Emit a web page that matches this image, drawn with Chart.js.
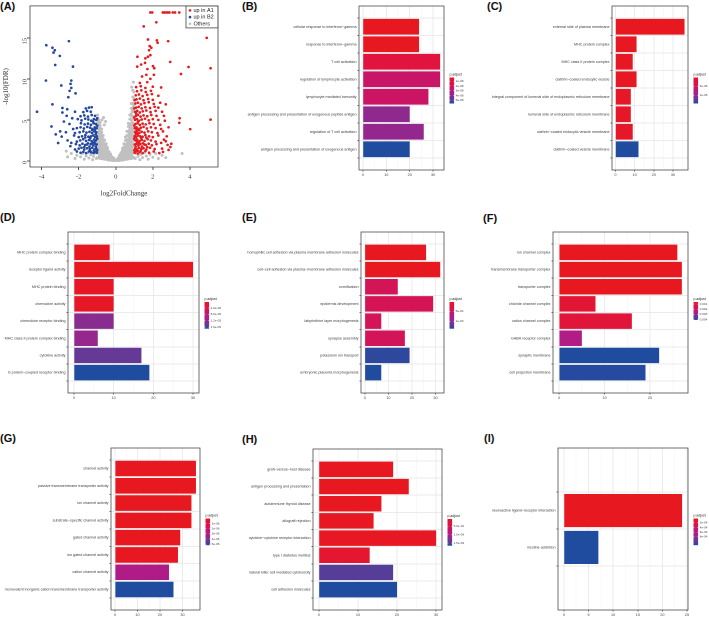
<!DOCTYPE html>
<html>
<head>
<meta charset="utf-8">
<script src="https://cdn.jsdelivr.net/npm/chart.js@4.4.1/dist/chart.umd.min.js"></script>
<style>
  html, body { margin: 0; padding: 0; background: #fff; }
  #fig { position: relative; width: 709px; height: 617px; overflow: hidden; }
  #fig canvas { position: absolute; }
  .tag { position: absolute; font: bold 11px "Liberation Sans", Arial, sans-serif; color: #111; line-height: 1; }
</style>
</head>
<body>
<div id="fig">
  <div class="tag" style="left:0px;top:1px">(A)</div>
  <div class="tag" style="left:242px;top:1px">(B)</div>
  <div class="tag" style="left:487px;top:1px">(C)</div>
  <div class="tag" style="left:0px;top:212px">(D)</div>
  <div class="tag" style="left:242px;top:212px">(E)</div>
  <div class="tag" style="left:483px;top:213px">(F)</div>
  <div class="tag" style="left:0px;top:433px">(G)</div>
  <div class="tag" style="left:242px;top:434px">(H)</div>
  <div class="tag" style="left:484px;top:433px">(I)</div>
</div>
<script>
/* ------------------------------------------------------------
   (A) volcano plot points: [log2FoldChange, -log10(FDR)]
------------------------------------------------------------ */
const upA1 = [
  [1.87,18.1],[1.97,18.1],[2.54,18.1],[2.63,18.1],[2.72,18.1],[2.81,18.1],[2.9,18.1],[3.08,18.1],[3.2,18.1],[3.43,18.1],
  [2.19,16.9],[1.51,16.4],[4.91,15.0],[1.74,14.8],[2.22,14.7],[2.26,14.4],[2.83,14.6],
  [1.83,14.0],[1.92,13.8],[1.8,13.5],[1.87,12.9],[1.74,12.7],[1.17,12.7],[1.6,12.5],[1.58,11.95],[2.94,12.07],
  [1.16,11.5],[1.37,11.75],[1.71,11.2],[2.01,11.56],[2.08,11.3],[3.93,11.45],[5.12,11.3],[3.52,10.6],
  [1.42,10.3],[1.65,10.5],[1.87,10.0],[2.06,10.5],[3.45,5.2],[3.43,4.65],[4.02,3.87],[5.12,5.04],
  [1.02,1.0],[1.1,1.15],[1.2,0.9],[1.3,1.1],[1.45,0.95],[1.6,1.2],[1.8,1.0],[2.05,1.15],[2.35,0.95],
  [1.05,1.5],[1.15,1.4],[1.25,1.6],[1.38,1.45],[1.5,1.55],[1.65,1.4],[1.85,1.6],[2.1,1.45],[2.5,1.5],[2.85,1.35],
  [1.03,2.0],[1.12,2.1],[1.22,1.9],[1.33,2.05],[1.47,2.15],[1.62,1.95],[1.78,2.1],[1.95,1.9],[2.2,2.05],[2.45,2.2],[2.8,1.95],[3.0,2.1],
  [1.06,2.5],[1.16,2.6],[1.28,2.4],[1.4,2.55],[1.55,2.45],[1.72,2.65],[1.9,2.5],[2.15,2.35],[2.6,2.6],
  [1.02,3.0],[1.1,2.9],[1.2,3.1],[1.32,3.0],[1.45,2.95],[1.6,3.15],[1.8,3.0],[2.0,2.9],[2.3,3.1],[2.75,3.0],
  [1.05,3.5],[1.15,3.6],[1.27,3.4],[1.4,3.55],[1.55,3.45],[1.75,3.6],[1.95,3.5],[2.25,3.4],[2.55,3.6],
  [1.03,4.0],[1.12,4.1],[1.22,3.9],[1.35,4.05],[1.5,4.15],[1.68,3.95],[1.9,4.1],[2.15,4.0],[2.45,3.9],[2.85,4.1],
  [1.06,4.5],[1.18,4.6],[1.3,4.4],[1.45,4.55],[1.62,4.45],[1.82,4.6],[2.05,4.5],[2.4,4.4],
  [1.04,5.0],[1.14,5.1],[1.26,4.9],[1.4,5.05],[1.58,5.15],[1.78,4.95],[2.0,5.1],[2.3,5.0],[2.65,4.9],
  [1.08,5.5],[1.2,5.6],[1.34,5.4],[1.5,5.55],[1.7,5.45],[1.92,5.6],[2.2,5.5],
  [1.05,6.0],[1.16,6.1],[1.3,5.9],[1.46,6.05],[1.65,6.15],[1.88,5.95],[2.15,6.1],[2.5,6.0],
  [1.1,6.5],[1.24,6.6],[1.4,6.4],[1.6,6.55],[1.85,6.45],[2.1,6.6],
  [1.06,7.0],[1.2,7.1],[1.36,6.9],[1.55,7.05],[1.78,7.15],[2.05,6.95],[2.4,7.1],[2.7,6.9],
  [1.12,7.5],[1.3,7.6],[1.5,7.4],[1.75,7.55],[2.0,7.45],
  [1.08,8.0],[1.25,8.1],[1.45,7.9],[1.7,8.05],[1.95,8.15],[2.3,7.95],
  [1.15,8.5],[1.38,8.6],[1.62,8.4],[1.9,8.55],[1.1,9.0],[1.35,9.1],[1.6,8.9],[2.0,9.05],[2.45,8.95],[1.3,9.5],[1.7,9.6],
  [1.0,1.3],[1.08,1.75],[1.15,2.3],[1.0,2.7],[1.08,3.25],[1.18,1.25],[1.25,2.2],[1.35,1.25],[1.12,3.8],[1.0,4.3],
  [1.2,4.8],[1.0,5.3],[1.1,5.8],[1.0,6.4],[1.02,7.4],[1.15,3.3],[1.28,3.75],[1.38,2.75],[1.42,1.75],[1.55,2.0],
  [1.7,1.7],[1.65,2.85],[2.55,1.1],[2.7,2.4],[2.95,1.7],[2.6,5.5],[2.3,6.5]
];
const upB2 = [
  [-2.53,14.6],[-3.75,14.1],[-3.42,13.8],[-3.29,13.5],[-3.36,13.2],[-3.02,12.8],[-3.27,11.7],[-2.31,11.5],[-3.77,9.8],
  [-2.4,9.8],[-2.44,9.4],[-2.4,8.9],[-2.49,8.55],[-2.17,8.24],[-2.56,7.77],[-2.94,9.2],[-3.42,6.9],[-4.25,6.0],
  [-2.88,6.45],[-2.88,5.9],[-2.62,6.3],[-2.65,5.5],[-3.47,4.2],[-3.24,3.24],[-3.11,2.19],[-2.92,2.97],[-2.69,3.5],
  [-2.5,4.5],[-2.35,5.2],[-2.8,4.8],[-2.2,6.0],[-2.6,2.5],[-2.45,1.8],[-3.0,3.6],[-2.3,3.9],
  [-1.02,1.0],[-1.1,1.1],[-1.2,0.95],[-1.32,1.05],[-1.45,1.15],[-1.6,0.95],[-1.75,1.1],[-1.9,1.0],[-2.1,1.15],
  [-1.05,1.5],[-1.15,1.4],[-1.27,1.6],[-1.4,1.45],[-1.55,1.55],[-1.7,1.4],[-1.85,1.6],[-2.0,1.5],[-2.2,1.4],
  [-1.03,2.0],[-1.12,2.1],[-1.22,1.9],[-1.35,2.05],[-1.5,2.15],[-1.65,1.95],[-1.8,2.1],[-1.95,1.9],[-2.15,2.05],[-2.4,2.2],
  [-1.06,2.5],[-1.17,2.6],[-1.3,2.4],[-1.44,2.55],[-1.6,2.45],[-1.76,2.65],[-1.92,2.5],[-2.1,2.35],
  [-1.02,3.0],[-1.11,2.9],[-1.21,3.1],[-1.34,3.0],[-1.48,2.95],[-1.64,3.15],[-1.82,3.0],[-2.0,2.9],[-2.25,3.1],
  [-1.05,3.5],[-1.16,3.6],[-1.28,3.4],[-1.42,3.55],[-1.58,3.45],[-1.75,3.6],[-1.95,3.5],[-2.2,3.4],
  [-1.03,4.0],[-1.13,4.1],[-1.25,3.9],[-1.38,4.05],[-1.54,4.15],[-1.72,3.95],[-1.9,4.1],[-2.1,4.0],
  [-1.08,4.5],[-1.2,4.6],[-1.34,4.4],[-1.5,4.55],[-1.68,4.45],[-1.88,4.6],
  [-1.05,5.0],[-1.18,5.1],[-1.32,4.9],[-1.48,5.05],[-1.65,5.15],[-1.85,4.95],[-2.05,5.1],
  [-1.12,5.5],[-1.3,5.6],[-1.5,5.4],[-1.7,5.55],[-1.9,5.45],[-1.35,6.0],[-1.55,6.1],[-1.75,5.95],
  [-1.45,6.5],[-1.62,6.4],[-1.3,6.55],
  [-1.0,1.3],[-1.08,1.75],[-1.15,2.3],[-1.0,2.7],[-1.08,3.25],[-1.18,1.25],[-1.25,2.2],[-1.38,1.25],[-1.12,3.8],
  [-1.0,4.3],[-1.22,4.8],[-1.0,5.2],[-1.42,1.75],[-1.55,2.0],[-1.7,1.7],[-1.65,2.85],[-1.28,3.75],[-1.38,2.75]
];
const others = [
  [0.05,0.05],[0.05,0.15],[0.12,0.05],[0.12,0.2],[0.12,0.35],[0.2,0.05],[0.2,0.25],[0.2,0.5],[0.2,0.7],
  [0.28,0.1],[0.28,0.4],[0.28,0.7],[0.28,1.0],[0.36,0.1],[0.36,0.45],[0.36,0.8],[0.36,1.2],[0.36,1.5],
  [0.44,0.15],[0.44,0.5],[0.44,0.9],[0.44,1.3],[0.44,1.7],[0.44,2.1],
  [0.52,0.2],[0.52,0.6],[0.52,1.0],[0.52,1.5],[0.52,2.0],[0.52,2.5],[0.52,2.9],
  [0.6,0.2],[0.6,0.6],[0.6,1.1],[0.6,1.6],[0.6,2.1],[0.6,2.6],[0.6,3.1],[0.6,3.6],
  [0.68,0.25],[0.68,0.7],[0.68,1.2],[0.68,1.8],[0.68,2.4],[0.68,3.0],[0.68,3.6],[0.68,4.2],[0.68,4.6],
  [0.76,0.3],[0.76,0.8],[0.76,1.4],[0.76,2.0],[0.76,2.6],[0.76,3.2],[0.76,3.9],[0.76,4.5],[0.76,5.1],[0.76,5.6],
  [0.84,0.3],[0.84,0.9],[0.84,1.5],[0.84,2.2],[0.84,2.9],[0.84,3.6],[0.84,4.3],[0.84,5.0],[0.84,5.7],[0.84,6.4],[0.84,7.0],
  [0.92,0.35],[0.92,1.0],[0.92,1.7],[0.92,2.4],[0.92,3.1],[0.92,3.8],[0.92,4.6],[0.92,5.4],[0.92,6.2],[0.92,7.0],[0.92,7.8],[0.92,8.6],
  [0.98,0.4],[0.98,1.2],[0.98,2.0],[0.98,2.8],[0.98,3.6],[0.98,4.4],[0.98,5.2],[0.98,6.0],[0.98,6.8],[0.98,7.6],[0.98,8.4],[0.95,9.6],[0.86,9.0],
  [0.32,0.25],[0.4,0.3],[0.48,0.4],[0.56,0.45],[0.64,0.5],[0.72,0.55],[0.8,0.6],[0.88,0.65],[0.4,0.65],[0.48,0.75],
  [0.56,0.85],[0.64,0.95],[0.72,1.0],[0.8,1.1],[0.88,1.25],[0.48,1.15],[0.56,1.3],[0.64,1.4],[0.72,1.5],[0.8,1.7],
  [0.88,1.9],[0.56,1.75],[0.64,1.9],[0.72,2.1],[0.8,2.3],[0.88,2.6],[0.64,2.35],[0.72,2.7],[0.8,2.95],[0.88,3.3],
  [0.72,3.35],[0.8,3.6],[0.88,4.0],[0.8,4.2],[0.88,4.7],[0.88,5.4],[0.95,6.6],[0.88,6.0],
  [-0.05,0.05],[-0.05,0.15],[-0.12,0.05],[-0.12,0.2],[-0.12,0.35],[-0.2,0.05],[-0.2,0.25],[-0.2,0.5],
  [-0.28,0.1],[-0.28,0.35],[-0.28,0.6],[-0.28,0.85],[-0.36,0.1],[-0.36,0.4],[-0.36,0.75],[-0.36,1.1],
  [-0.44,0.15],[-0.44,0.5],[-0.44,0.9],[-0.44,1.3],[-0.44,1.6],
  [-0.52,0.2],[-0.52,0.55],[-0.52,1.0],[-0.52,1.4],[-0.52,1.8],[-0.52,2.1],
  [-0.6,0.2],[-0.6,0.6],[-0.6,1.1],[-0.6,1.6],[-0.6,2.1],[-0.6,2.5],
  [-0.68,0.25],[-0.68,0.7],[-0.68,1.2],[-0.68,1.7],[-0.68,2.2],[-0.68,2.7],[-0.68,3.1],
  [-0.76,0.3],[-0.76,0.8],[-0.76,1.3],[-0.76,1.9],[-0.76,2.5],[-0.76,3.0],[-0.76,3.5],[-0.76,3.9],
  [-0.84,0.3],[-0.84,0.85],[-0.84,1.4],[-0.84,2.0],[-0.84,2.6],[-0.84,3.2],[-0.84,3.8],[-0.84,4.3],[-0.84,4.7],
  [-0.92,0.35],[-0.92,0.9],[-0.92,1.5],[-0.92,2.1],[-0.92,2.7],[-0.92,3.3],[-0.92,3.9],[-0.92,4.5],[-0.92,5.0],
  [-0.98,0.4],[-0.98,1.0],[-0.98,1.6],[-0.98,2.2],[-0.98,2.8],[-0.98,3.4],[-0.98,4.0],[-0.98,4.6],[-0.98,5.2],[-0.98,5.6],
  [-0.32,0.25],[-0.4,0.3],[-0.48,0.35],[-0.56,0.4],[-0.64,0.45],[-0.72,0.5],[-0.8,0.55],[-0.88,0.6],[-0.48,0.75],[-0.56,0.8],
  [-0.64,0.9],[-0.72,1.0],[-0.8,1.1],[-0.88,1.2],[-0.56,1.25],[-0.64,1.4],[-0.72,1.5],[-0.8,1.65],[-0.88,1.8],[-0.64,1.85],
  [-0.72,1.95],[-0.8,2.25],[-0.88,2.4],[-0.72,2.45],[-0.8,2.75],[-0.88,3.0],[-0.8,3.25],[-0.88,3.6],[-0.88,4.1],[-0.95,4.8],
  [-0.74,5.0],[-0.66,5.3],[-0.55,4.8],[-0.62,4.4],
  [-2.6,0.5],[-2.4,0.9],[-2.2,0.3],[-2.1,0.7],[-1.9,0.5],[-1.8,0.9],[-1.7,0.2],[-1.6,0.6],[-1.5,1.0],[-1.45,0.35],
  [-1.35,0.75],[-1.25,0.15],[-1.2,0.55],[-1.1,0.95],[-1.05,0.3],[-2.67,1.2],
  [1.05,0.3],[1.1,0.9],[1.2,0.55],[1.3,0.15],[1.35,0.8],[1.45,0.4],[1.55,1.0],[1.65,0.6],[1.75,0.2],[1.85,0.8],
  [2.0,0.45],[2.15,0.9],[2.3,0.3],[2.5,0.7],[2.7,0.4],[3.58,0.9]
];

/* ------------------------------------------------------------
   (B)-(I) enrichment bar charts: terms, gene counts, p.adjust
------------------------------------------------------------ */
const bTerms = ["cellular response to interferon\u2212gamma", "response to interferon\u2212gamma", "T cell activation",
  "regulation of lymphocyte activation", "lymphocyte mediated immunity",
  "antigen processing and presentation of exogenous peptide antigen", "regulation of T cell activation",
  "antigen processing and presentation of exogenous antigen"];
const bCounts = [24, 24, 33, 33, 28, 20, 26, 20];
const bPadj = [2.3e-9, 2.3e-9, 1.05e-8, 2.4e-8, 2.3e-8, 4.1e-8, 4.0e-8, 5.7e-8];
const bLegend = ["1e-08", "2e-08", "3e-08", "4e-08", "5e-08"];

const cTerms = ["external side of plasma membrane", "MHC protein complex", "MHC class II protein complex",
  "clathrin\u2212coated endocytic vesicle", "integral component of lumenal side of endoplasmic reticulum membrane",
  "lumenal side of endoplasmic reticulum membrane", "clathrin\u2212coated endocytic vesicle membrane",
  "clathrin\u2212coated vesicle membrane"];
const cCounts = [36, 11, 9, 11, 8, 8, 9, 12];
const cPadj = [1.9e-7, 3e-7, 4e-7, 5e-7, 6e-7, 6e-7, 9e-7, 1.46e-5];
const cLegend = ["5e-06", "1e-05"];

const dTerms = ["MHC protein complex binding", "receptor ligand activity", "MHC protein binding", "chemokine activity",
  "chemokine receptor binding", "MHC class II protein complex binding", "cytokine activity",
  "G protein\u2212coupled receptor binding"];
const dCounts = [9, 30, 10, 10, 10, 6, 17, 19];
const dPadj = [2e-7, 3e-7, 6e-7, 8e-7, 1.25e-5, 1.17e-5, 1.45e-5, 1.705e-5];
const dLegend = ["4.0e-06", "8.0e-06", "1.2e-05", "1.6e-05"];

const eTerms = ["homophilic cell adhesion via plasma membrane adhesion molecules",
  "cell\u2212cell adhesion via plasma\u2212membrane adhesion molecules", "cornification", "epidermis development",
  "labyrinthine layer morphogenesis", "synapse assembly", "potassium ion transport", "embryonic placenta morphogenesis"];
const eCounts = [26, 32, 14, 29, 7, 17, 19, 7];
const ePadj = [3.3e-5, 4e-5, 4.3e-4, 4.2e-4, 4.4e-4, 4.5e-4, 1.33e-3, 1.37e-3];
const eLegend = ["5e-04", "1e-03"];

const fTerms = ["ion channel complex", "transmembrane transporter complex", "transporter complex",
  "chloride channel complex", "cation channel complex", "GABA receptor complex", "synaptic membrane",
  "cell projection membrane"];
const fCounts = [26, 27, 27, 8, 16, 5, 22, 19];
const fPadj = [6e-4, 6e-4, 6.2e-4, 9.5e-4, 1.06e-3, 2.5e-3, 4.1e-3, 4.05e-3];
const fLegend = ["0.001", "0.002", "0.003", "0.004"];

const gTerms = ["channel activity", "passive transmembrane transporter activity", "ion channel activity",
  "substrate\u2212specific channel activity", "gated channel activity", "ion gated channel activity",
  "cation channel activity", "monovalent inorganic cation transmembrane transporter activity"];
const gCounts = [36, 36, 34, 34, 29, 28, 24, 26];
const gPadj = [3e-8, 3e-8, 4e-8, 4e-8, 6e-8, 8e-8, 2.9e-6, 5.2e-6];
const gLegend = ["1e-06", "2e-06", "3e-06", "4e-06", "5e-06"];

const hTerms = ["graft\u2212versus\u2212host disease", "antigen processing and presentation", "autoimmune thyroid disease",
  "allograft rejection", "cytokine\u2212cytokine receptor interaction", "type I diabetes mellitus",
  "natural killer cell mediated cytotoxicity", "cell adhesion molecules"];
const hCounts = [19, 23, 16, 14, 30, 13, 19, 20];
const hPadj = [6e-11, 6e-11, 7e-11, 8e-11, 8e-11, 1.9e-10, 1.47e-9, 1.66e-9];
const hLegend = ["5.0e-10", "1.0e-09", "1.5e-09"];

const iTerms = ["neuroactive ligand\u2212receptor interaction", "nicotine addiction"];
const iCounts = [24, 7];
const iPadj = [1.4e-5, 1.16e-3];
const iLegend = ["2e-04", "4e-04", "6e-04", "8e-04"];

/* ------------------------------------------------------------
   shared styling
------------------------------------------------------------ */
const SANS = '"Liberation Sans", Arial, sans-serif';
const SERIF = '"Liberation Serif", "Times New Roman", serif';
const fig = document.getElementById("fig");

// red -> blue ramp used for the p.adjust fill
const RAMP = [[0, [232, 24, 32]], [0.15, [224, 20, 62]], [0.38, [204, 20, 100]], [0.55, [176, 28, 135]],
  [0.7, [145, 40, 142]], [0.85, [100, 58, 150]], [1, [32, 76, 160]]];

function rampColor(t) {
  t = Math.max(0, Math.min(1, t));
  for (let i = 1; i < RAMP.length; i++) {
    if (t <= RAMP[i][0]) {
      const [t0, c0] = RAMP[i - 1], [t1, c1] = RAMP[i];
      const f = (t - t0) / (t1 - t0);
      const c = c0.map((v, k) => Math.round(v + (c1[k] - v) * f));
      return `rgb(${c[0]},${c[1]},${c[2]})`;
    }
  }
  return "rgb(32,76,160)";
}

function addCanvas(left, top, w, h) {
  const cv = document.createElement("canvas");
  cv.width = w; cv.height = h;
  cv.style.left = left + "px"; cv.style.top = top + "px";
  cv.style.width = w + "px"; cv.style.height = h + "px";
  fig.appendChild(cv);
  return cv;
}

/* ------------------------------------------------------------
   (A) volcano
------------------------------------------------------------ */
function drawVolcano() {
  const frame = [30, 2, 218, 167];
  const W = 235, H = 200;
  const cv = addCanvas(0, 0, W, H);
  const toXY = arr => arr.map(p => ({ x: p[0], y: p[1] }));

  const volcanoDeco = {
    id: "volcanoDeco",
    afterDraw(chart) {
      const { ctx, chartArea: ca } = chart;
      ctx.save();
      ctx.strokeStyle = "#444"; ctx.lineWidth = 0.8;
      ctx.strokeRect(ca.left, ca.top, ca.right - ca.left, ca.bottom - ca.top);
      // legend box, top right inside the frame
      const bw = 32, bh = 22, bx = ca.right - bw, by = ca.top;
      ctx.strokeRect(bx, by, bw, bh);
      ctx.font = "5.5px " + SANS;
      ctx.textBaseline = "middle"; ctx.textAlign = "left";
      chart.data.datasets.forEach((ds, i) => {
        const y = by + 4.5 + i * 6.7;
        ctx.fillStyle = ds.backgroundColor;
        ctx.beginPath(); ctx.arc(bx + 4, y, 1.3, 0, Math.PI * 2); ctx.fill();
        ctx.fillStyle = "#222";
        ctx.fillText(ds.label, bx + 7.5, y);
      });
      ctx.restore();
    }
  };

  new Chart(cv, {
    type: "scatter",
    data: {
      datasets: [
        { label: "up in A1", data: toXY(upA1), backgroundColor: "rgb(228,28,32)", pointRadius: 1.35, borderWidth: 0 },
        { label: "up in B2", data: toXY(upB2), backgroundColor: "rgb(36,72,158)", pointRadius: 1.35, borderWidth: 0 },
        { label: "Others", data: toXY(others), backgroundColor: "rgb(192,192,192)", pointRadius: 1.5, borderWidth: 0 }
      ]
    },
    options: {
      responsive: false, animation: false, devicePixelRatio: 2,
      layout: { padding: { top: frame[1], right: W - frame[2], left: 0, bottom: 0 } },
      plugins: { legend: { display: false }, tooltip: { enabled: false } },
      scales: {
        x: {
          type: "linear", min: -4.63, max: 5.52,
          ticks: { stepSize: 2, includeBounds: false, font: { family: SERIF, size: 6.5 }, color: "#333", padding: 3 },
          grid: { drawOnChartArea: false, tickLength: 3, tickColor: "#555" },
          border: { display: false },
          title: { display: true, text: "log2FoldChange", font: { family: SERIF, size: 7 }, color: "#333", padding: { top: 0, bottom: 2 } },
          afterFit: s => { s.height = H - frame[3]; }
        },
        y: {
          type: "linear", min: -0.74, max: 18.9,
          ticks: { stepSize: 5, includeBounds: false, minRotation: 90, maxRotation: 90, font: { family: SERIF, size: 6.5 }, color: "#333", padding: 2 },
          grid: { drawOnChartArea: false, tickLength: 3, tickColor: "#555" },
          border: { display: false },
          title: { display: true, text: "-log10(FDR)", font: { family: SERIF, size: 7 }, color: "#333", padding: { top: 2, bottom: 0 } },
          afterFit: s => { s.width = frame[0]; }
        }
      }
    },
    plugins: [volcanoDeco]
  });
}

/* ------------------------------------------------------------
   (B)-(I) horizontal enrichment bars
------------------------------------------------------------ */
function drawBarPanel(frame, terms, counts, padj, legendTicks, majorStep, barH) {
  const [L, T, R, B] = frame;
  const yw = Math.min(125, L);
  const legendRoom = 45;
  const W = yw + (R - L) + legendRoom;
  const H = (B - T) + 4 + 10;
  const cv = addCanvas(L - yw, T - 4, W, H);

  const n = terms.length;
  const maxCount = Math.max(...counts);
  const pMin = Math.min(...padj), pMax = Math.max(...padj);
  const isMajor = v => Math.abs(v % majorStep) < 1e-9;

  const panelDeco = {
    id: "panelDeco",
    afterDraw(chart) {
      const { ctx, chartArea: ca } = chart;
      ctx.save();
      ctx.strokeStyle = "#4d4d4d"; ctx.lineWidth = 0.8;
      ctx.strokeRect(ca.left, ca.top, ca.right - ca.left, ca.bottom - ca.top);

      // p.adjust colour bar
      const bx = ca.right + 5.5, bw = 4.6;
      const by = (ca.top + ca.bottom) / 2 - 10.5;
      const grad = ctx.createLinearGradient(0, by, 0, by + barH);
      RAMP.forEach(([t]) => grad.addColorStop(t, rampColor(t)));
      ctx.fillStyle = grad;
      ctx.fillRect(bx, by, bw, barH);

      ctx.fillStyle = "#222";
      ctx.font = "3.5px " + SANS;
      ctx.textAlign = "left"; ctx.textBaseline = "bottom";
      ctx.fillText("p.adjust", bx, by - 1);

      ctx.font = "3.1px " + SANS;
      ctx.textBaseline = "middle";
      legendTicks.forEach(lbl => {
        const y = by + (Number(lbl) - pMin) / (pMax - pMin) * barH;
        if (y < by || y > by + barH) return;
        ctx.strokeStyle = "#fff"; ctx.lineWidth = 0.4;
        ctx.beginPath();
        ctx.moveTo(bx, y); ctx.lineTo(bx + 1, y);
        ctx.moveTo(bx + bw - 1, y); ctx.lineTo(bx + bw, y);
        ctx.stroke();
        ctx.fillStyle = "#444";
        ctx.fillText(lbl, bx + bw + 1.5, y);
      });
      ctx.restore();
    }
  };

  new Chart(cv, {
    type: "bar",
    data: {
      datasets: [{
        data: counts.map((v, i) => ({ x: v, y: i })),
        backgroundColor: padj.map(p => rampColor((p - pMin) / (pMax - pMin))),
        borderWidth: 0,
        barPercentage: 1,
        categoryPercentage: 0.9
      }]
    },
    options: {
      responsive: false, animation: false, devicePixelRatio: 2,
      indexAxis: "y",
      layout: { padding: { top: 4, right: legendRoom, left: 0, bottom: 0 } },
      plugins: { legend: { display: false }, tooltip: { enabled: false } },
      scales: {
        x: {
          type: "linear", min: -0.05 * maxCount, max: 1.05 * maxCount,
          ticks: {
            stepSize: majorStep / 2, includeBounds: false, autoSkip: false, maxRotation: 0,
            padding: 1, font: { family: SANS, size: 3.8 }, color: "#444",
            callback: v => (isMajor(v) ? v : "")
          },
          grid: {
            color: c => (c.tick && isMajor(c.tick.value) ? "#e4e4e4" : "#f0f0f0"),
            lineWidth: c => (c.tick && isMajor(c.tick.value) ? 0.7 : 0.4),
            tickLength: 1.5,
            tickColor: c => (c.tick && isMajor(c.tick.value) ? "#333" : "rgba(0,0,0,0)")
          },
          border: { display: false },
          afterFit: s => { s.height = 10; }
        },
        y: {
          type: "linear", reverse: true, min: -0.6, max: n - 0.4,
          ticks: {
            stepSize: 1, includeBounds: false, autoSkip: false,
            padding: 1, font: { family: SANS, size: 3.7 }, color: "#3a3a3a",
            callback: v => (Number.isInteger(v) && terms[v] !== undefined ? terms[v] : "")
          },
          grid: { color: "#e4e4e4", lineWidth: 0.7, tickLength: 1.5, tickColor: "#333" },
          border: { display: false },
          afterFit: s => { s.width = yw; }
        }
      }
    },
    plugins: [panelDeco]
  });
}

document.addEventListener("DOMContentLoaded", () => {
  drawVolcano();
  drawBarPanel([359, 6, 444, 170], bTerms, bCounts, bPadj, bLegend, 10, 26);
  drawBarPanel([612, 6, 688, 170], cTerms, cCounts, cPadj, cLegend, 10, 26);
  drawBarPanel([68, 232, 199, 393], dTerms, dCounts, dPadj, dLegend, 10, 26.7);
  drawBarPanel([361, 232, 444, 393], eTerms, eCounts, ePadj, eLegend, 10, 26.7);
  drawBarPanel([553, 232, 688, 393], fTerms, fCounts, fPadj, fLegend, 10, 18);
  drawBarPanel([111, 448, 200, 610], gTerms, gCounts, gPadj, gLegend, 10, 26.7);
  drawBarPanel([313, 449, 442, 610], hTerms, hCounts, hPadj, hLegend, 10, 26.7);
  drawBarPanel([558, 448, 688, 610], iTerms, iCounts, iPadj, iLegend, 5, 26.7);
});
</script>
</body>
</html>
